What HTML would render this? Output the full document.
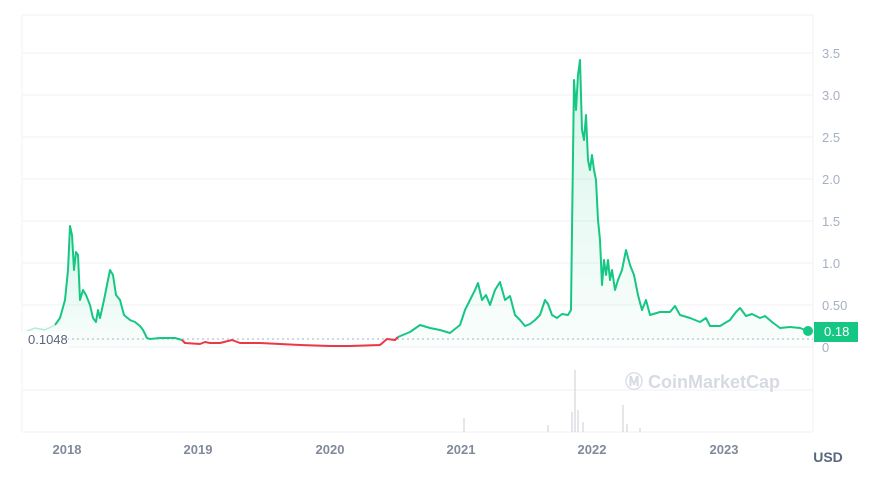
<!DOCTYPE html>
<html><head><meta charset="utf-8"><style>
body{margin:0;background:#fff;width:877px;height:480px;overflow:hidden;font-family:"Liberation Sans",sans-serif}
</style></head><body>
<svg width="877" height="480" xmlns="http://www.w3.org/2000/svg" font-family="Liberation Sans, sans-serif">
<defs><linearGradient id="g" x1="0" y1="0" x2="0" y2="1"><stop offset="0" stop-color="#16c784" stop-opacity="0.18"/><stop offset="1" stop-color="#16c784" stop-opacity="0.02"/></linearGradient></defs>
<g stroke="#f0f2f5" stroke-width="1">
<line x1="22" y1="15" x2="813" y2="15"/>
<line x1="22" y1="53" x2="813" y2="53"/><line x1="22" y1="95" x2="813" y2="95"/><line x1="22" y1="137" x2="813" y2="137"/><line x1="22" y1="179" x2="813" y2="179"/><line x1="22" y1="221" x2="813" y2="221"/><line x1="22" y1="263" x2="813" y2="263"/><line x1="22" y1="305" x2="813" y2="305"/><line x1="22" y1="347" x2="813" y2="347"/><line x1="22" y1="390" x2="813" y2="390"/><line x1="22" y1="432" x2="813" y2="432"/>
<line x1="22" y1="15" x2="22" y2="432"/><line x1="813" y1="15" x2="813" y2="432"/>
</g>
<text x="625" y="388" font-size="18" font-weight="bold" fill="#d6dbe3">Ⓜ CoinMarketCap</text>
<g stroke="#c9ced6" stroke-width="1">
<line x1="464" y1="432" x2="464" y2="418"/><line x1="548" y1="432" x2="548" y2="425"/><line x1="572" y1="432" x2="572" y2="412"/><line x1="575" y1="432" x2="575" y2="370"/><line x1="578" y1="432" x2="578" y2="410"/><line x1="583" y1="432" x2="583" y2="422"/><line x1="623" y1="432" x2="623" y2="405"/><line x1="627" y1="432" x2="627" y2="424"/><line x1="640" y1="432" x2="640" y2="428"/>
</g>
<path d="M30,330 L55,325 L60,318 L65,300 L68,270 L70,226 L72,235 L74,270 L76,252 L78,255 L80,300 L83,290 L86,295 L90,305 L93,318 L96,322 L98,310 L100,318 L104,300 L107,285 L110,270 L113,275 L116,295 L120,300 L124,315 L130,320 L135,322 L140,326 L143,330 L147,338 L150,339 L160,338 L175,338 L182,340 L182,347 L30,347Z" fill="url(#g)"/>
<path d="M398,337 L410,332 L420,325 L430,328 L440,330 L450,333 L460,325 L465,310 L470,300 L475,290 L478,283 L482,300 L486,295 L490,305 L495,290 L500,282 L505,300 L510,296 L515,315 L520,320 L525,326 L530,324 L535,320 L540,315 L545,300 L548,304 L552,315 L557,318 L562,314 L568,315 L571,310 L572,230 L574,80 L576,110 L578,75 L580,60 L582,130 L584,140 L586,115 L588,160 L590,170 L592,155 L594,170 L596,180 L598,220 L600,240 L602,285 L604,260 L606,275 L608,260 L610,280 L612,270 L615,290 L618,280 L622,270 L626,250 L630,265 L634,275 L638,295 L642,310 L646,300 L650,315 L660,312 L670,312 L675,306 L680,315 L690,318 L700,322 L706,318 L710,326 L720,326 L730,320 L736,312 L740,308 L746,316 L752,314 L760,318 L765,316 L772,322 L780,328 L790,327 L800,328 L808,330 L808,347 L398,347Z" fill="url(#g)"/>
<line x1="22" y1="339" x2="813" y2="339" stroke="#a6b0c3" stroke-width="1" stroke-dasharray="2,3"/>
<g fill="none" stroke-width="2" stroke-linejoin="round">
<path stroke="#16c784" d="M55,325 L60,318 L65,300 L68,270 L70,226 L72,235 L74,270 L76,252 L78,255 L80,300 L83,290 L86,295 L90,305 L93,318 L96,322 L98,310 L100,318 L104,300 L107,285 L110,270 L113,275 L116,295 L120,300 L124,315 L130,320 L135,322 L140,326 L143,330 L147,338 L150,339 L160,338 L175,338 L182,340"/>
<path stroke="#ea3943" d="M182,340 L185,343 L200,344 L205,342 L210,343 L220,343 L232,340 L240,343 L260,343 L300,345 L330,346 L350,346 L380,345 L387,339 L395,340 L398,337"/>
<path stroke="#16c784" d="M398,337 L410,332 L420,325 L430,328 L440,330 L450,333 L460,325 L465,310 L470,300 L475,290 L478,283 L482,300 L486,295 L490,305 L495,290 L500,282 L505,300 L510,296 L515,315 L520,320 L525,326 L530,324 L535,320 L540,315 L545,300 L548,304 L552,315 L557,318 L562,314 L568,315 L571,310 L572,230 L574,80 L576,110 L578,75 L580,60 L582,130 L584,140 L586,115 L588,160 L590,170 L592,155 L594,170 L596,180 L598,220 L600,240 L602,285 L604,260 L606,275 L608,260 L610,280 L612,270 L615,290 L618,280 L622,270 L626,250 L630,265 L634,275 L638,295 L642,310 L646,300 L650,315 L660,312 L670,312 L675,306 L680,315 L690,318 L700,322 L706,318 L710,326 L720,326 L730,320 L736,312 L740,308 L746,316 L752,314 L760,318 L765,316 L772,322 L780,328 L790,327 L800,328 L808,331"/>
<path stroke="#b9ecd6" stroke-width="1.5" d="M22,333 L35,328 L45,330 L55,325"/>
</g>
<circle cx="808" cy="331" r="5" fill="#16c784"/>
<rect x="0" y="331" width="68" height="17" fill="#fff"/>
<text x="28" y="344" font-size="13" fill="#58667e">0.1048</text>
<rect x="814" y="322" width="44" height="20" fill="#16c784"/>
<text x="824" y="336" font-size="13" fill="#fff">0.18</text>
<g font-size="13" fill="#a6b0c3">
<text x="822" y="58">3.5</text><text x="822" y="100">3.0</text><text x="822" y="142">2.5</text><text x="822" y="184">2.0</text><text x="822" y="226">1.5</text><text x="822" y="268">1.0</text><text x="822" y="310">0.50</text><text x="822" y="352">0</text>
</g>
<g font-size="13" fill="#808a9d" font-weight="bold" text-anchor="middle">
<text x="67" y="454">2018</text><text x="198" y="454">2019</text><text x="330" y="454">2020</text><text x="461" y="454">2021</text><text x="592" y="454">2022</text><text x="724" y="454">2023</text>
</g>
<text x="828" y="462" font-size="14" font-weight="bold" fill="#58667e" text-anchor="middle">USD</text>
</svg>
</body></html>
